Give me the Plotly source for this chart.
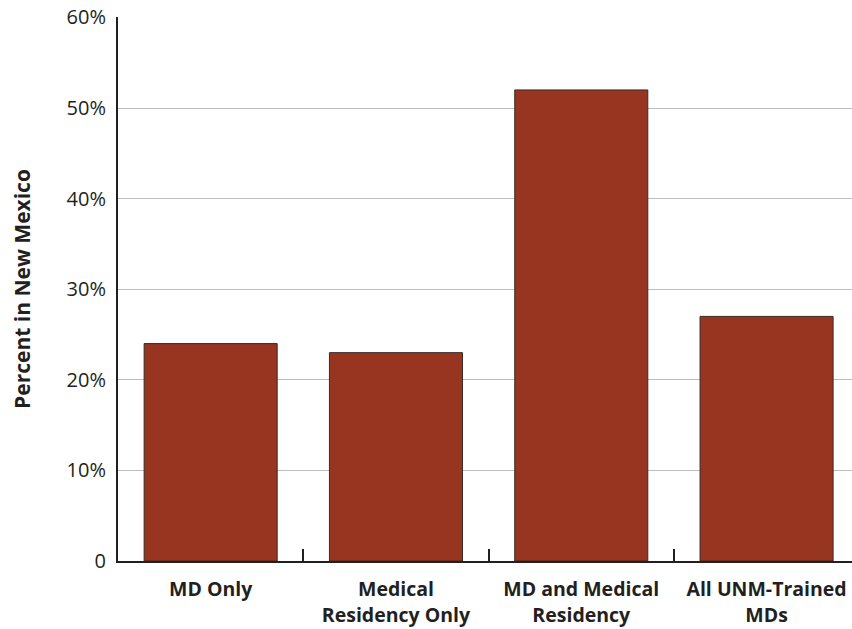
import plotly.graph_objects as go

categories = ["MD Only", "Medical<br>Residency Only", "MD and Medical<br>Residency", "All UNM-Trained<br>MDs"]
values = [24, 23, 52, 27]
y_tickvals = [0, 10, 20, 30, 40, 50, 60]
y_ticktext = ["0", "10%", "20%", "30%", "40%", "50%", "60%"]

labels = ["<b>" + c.replace("<br>", "</b><br><b>") + "</b>" for c in categories]

fig = go.Figure()
fig.add_trace(go.Bar(
    x=labels,
    y=values,
    marker=dict(color="#973520", line=dict(color="#3a2a26", width=1)),
    hoverinfo="skip",
))

FONT = "Open Sans, sans-serif"
fig.update_layout(
    width=852, height=629,
    margin=dict(l=118, r=0, t=17, b=68, autoexpand=False),
    paper_bgcolor="white", plot_bgcolor="white",
    bargap=0.282,
    showlegend=False,
    font=dict(family=FONT, color="#231f20"),
)
fig.update_xaxes(
    type="category",
    range=[-0.5, 3.461],
    tickson="boundaries",
    ticks="inside", ticklen=12, tickwidth=1.5, tickcolor="#231f20",
    showline=True, linecolor="#231f20", linewidth=2,
    showgrid=False, zeroline=False,
    automargin=False,
    tickfont=dict(size=19.5, family=FONT, color="#231f20"),
    ticklabelstandoff=10,
)
fig.update_yaxes(
    range=[0, 60.05],
    tickmode="array", tickvals=y_tickvals, ticktext=y_ticktext,
    showline=True, linecolor="#231f20", linewidth=2,
    showgrid=True, gridcolor="#bdbdbd", gridwidth=1,
    zeroline=False, ticks="",
    automargin=False,
    ticklabeloverflow="allow",
    tickfont=dict(size=20, family=FONT, color="#231f20"),
    ticklabelstandoff=6,
    title=dict(text="<b>Percent in New Mexico</b>", font=dict(size=21, family=FONT, color="#231f20"), standoff=30),
)

fig.write_html("out.html", config={"displayModeBar": False},
               post_script="document.body.style.margin='0';")
